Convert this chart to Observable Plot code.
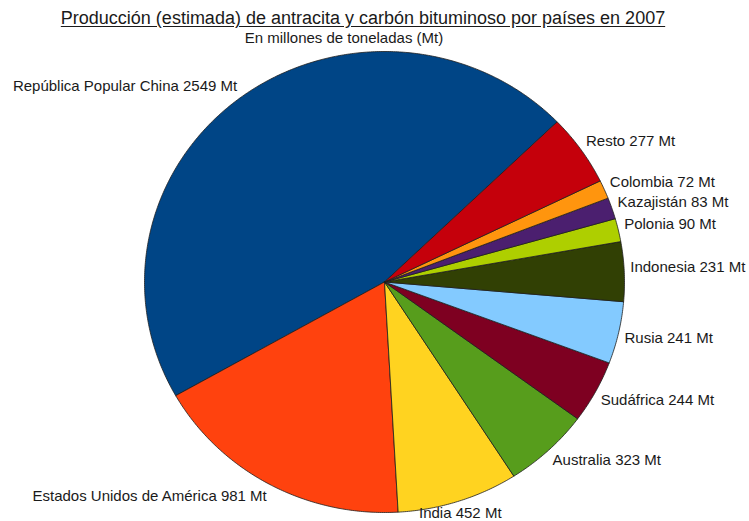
<!DOCTYPE html>
<html>
<head>
<meta charset="utf-8">
<script src="https://cdn.jsdelivr.net/npm/d3@7"></script>
<script src="https://cdn.jsdelivr.net/npm/@observablehq/plot@0.6"></script>
<style>
  html, body { margin: 0; padding: 0; background: #fff; }
  body { width: 749px; height: 521px; overflow: hidden; font-family: "Liberation Sans", Arial, sans-serif; color: #1a1a1a; }
  #head { position: relative; height: 46px; }
  #title { position: absolute; left: 363px; top: 8px; transform: translateX(-50%); white-space: nowrap; font-size: 18px; text-decoration: underline; text-underline-offset: 2px; }
  #subtitle { position: absolute; left: 344px; top: 29px; transform: translateX(-50%); white-space: nowrap; font-size: 15px; }
  svg { display: block; }
</style>
</head>
<body>
<div id="head">
  <div id="title">Producción (estimada) de antracita y carbón bituminoso por países en 2007</div>
  <div id="subtitle">En millones de toneladas (Mt)</div>
</div>
<div id="chart"></div>
<script>
const paises = ["República Popular China", "Estados Unidos de América", "India", "Australia", "Sudáfrica", "Rusia", "Indonesia", "Polonia", "Kazajistán", "Colombia", "Resto"];
const produccion = [2549, 981, 452, 323, 244, 241, 231, 90, 83, 72, 277];
const unidad = "Mt";
const colores = ["#004586", "#ff420e", "#ffd320", "#579d1c", "#7e0021", "#83caff", "#314004", "#aecf00", "#4b1f6f", "#ff950e", "#c5000b"];

const startDeg = 46; // compass angle where the first slice starts; slices run counter-clockwise
const rad = d => d * Math.PI / 180;
const total = d3.sum(produccion);
let acc = 0;
const slices = paises.map((p, i) => {
  const a0 = startDeg - acc / total * 360;
  acc += produccion[i];
  const a1 = startDeg - acc / total * 360;
  return {pais: p, valor: produccion[i], a0, a1, mid: (a0 + a1) / 2};
});

const poly = [];
for (const s of slices) {
  poly.push({pais: s.pais, x: 0, y: 0});
  const n = Math.max(2, Math.ceil(Math.abs(s.a0 - s.a1) / 0.5));
  for (let k = 0; k <= n; k++) {
    const t = rad(s.a0 + (s.a1 - s.a0) * k / n);
    poly.push({pais: s.pais, x: Math.sin(t), y: Math.cos(t)});
  }
  poly.push({pais: s.pais, x: 0, y: 0});
}

const labels = slices.map(s => {
  const t = rad(s.mid);
  const c = Math.cos(t);
  return {label: `${s.pais} ${s.valor} ${unidad}`, x: 1.025 * Math.sin(t), y: 1.04 * c + 0.015 * Math.sign(c), s: Math.sin(t)};
});

const textOpts = {x: "x", y: "y", text: "label", fontSize: 15, fill: "#1a1a1a"};

const chart = Plot.plot({
  width: 749,
  height: 475,
  marginLeft: 144,
  marginRight: 125,
  marginTop: 5,
  marginBottom: 9,
  x: {domain: [-1, 1], axis: null},
  y: {domain: [-1, 1], axis: null},
  color: {domain: paises, range: colores},
  style: {fontFamily: '"Liberation Sans", Arial, sans-serif', background: "#fff", overflow: "visible"},
  marks: [
    Plot.line(poly, {x: "x", y: "y", z: "pais", fill: "pais", stroke: "#1e1e1e", strokeWidth: 0.8, strokeLinejoin: "round", curve: "linear"}),
    Plot.text(labels.filter(d => d.s > 0.4), {...textOpts, textAnchor: "start"}),
    Plot.text(labels.filter(d => d.s < -0.4), {...textOpts, textAnchor: "end"}),
    Plot.text(labels.filter(d => Math.abs(d.s) <= 0.4), {...textOpts, textAnchor: "middle"})
  ]
});
document.getElementById("chart").appendChild(chart);
</script>
</body>
</html>
